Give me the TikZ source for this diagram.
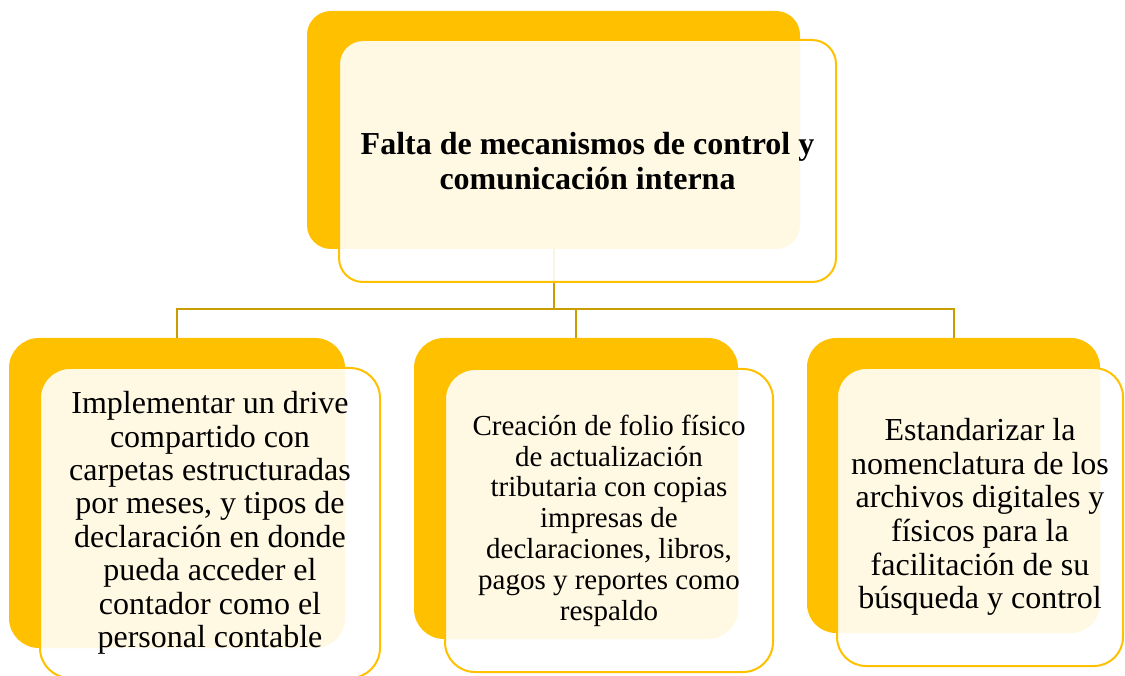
\documentclass[tikz,border=0pt]{standalone}
\usepackage{fontspec}
\setmainfont{Liberation Serif}
\definecolor{gold}{HTML}{FFC000}
\definecolor{conncol}{HTML}{C99C00}
\begin{document}
\begin{tikzpicture}[x=1pt,y=-1pt,
  backbox/.style={rectangle, fill=gold, inner sep=0pt},
  frontbox/.style={rectangle, draw=gold, line width=2pt, fill=white, fill opacity=0.89, text opacity=1, draw opacity=1, inner sep=0pt, align=center},
  conn/.style={draw=conncol, line width=2pt}]
\useasboundingbox (0,0) rectangle (1125,676);
% back shapes
\node[backbox, rounded corners=24pt, minimum width=493pt, minimum height=238pt] (tb) at (553.5,130) {};
\node[backbox, rounded corners=30pt, minimum width=336pt, minimum height=310pt] (lb) at (177,493) {};
\node[backbox, rounded corners=30pt, minimum width=324pt, minimum height=301pt] (mb) at (576,488.5) {};
\node[backbox, rounded corners=29pt, minimum width=293pt, minimum height=295pt] (rb) at (953.5,485.5) {};
% connectors
\coordinate (hy) at (0,309);
\draw[conn] (tb.south) -- (tb.south |- hy) -| (lb.north);
\draw[conn] (tb.south) -- (tb.south |- hy) -| (mb.north);
\draw[conn] (tb.south) -- (tb.south |- hy) -| (rb.north);
% front shapes
\node[frontbox, rounded corners=24pt, minimum width=497pt, minimum height=242pt, font=\bfseries\fontsize{32}{35}\selectfont] (tf) at (587.5,161)
  {Falta de mecanismos de control y\\comunicación interna};
\node[frontbox, rounded corners=30pt, minimum width=340pt, minimum height=310pt, font=\fontsize{32}{33.4}\selectfont] (lf) at (210,523)
  {Implementar un drive\\compartido con\\carpetas estructuradas\\por meses, y tipos de\\declaración en donde\\pueda acceder el\\contador como el\\personal contable};
\node[frontbox, rounded corners=30pt, minimum width=328pt, minimum height=303pt, font=\fontsize{29}{30.8}\selectfont] (mf) at (609,520.5)
  {Creación de folio físico\\de actualización\\tributaria con copias\\impresas de\\declaraciones, libros,\\pagos y reportes como\\respaldo};
\node[frontbox, rounded corners=29pt, minimum width=286pt, minimum height=298pt, font=\fontsize{32}{33.6}\selectfont] (rf) at (980,517)
  {Estandarizar la\\nomenclatura de los\\archivos digitales y\\físicos para la\\facilitación de su\\búsqueda y control};
\end{tikzpicture}
\end{document}
